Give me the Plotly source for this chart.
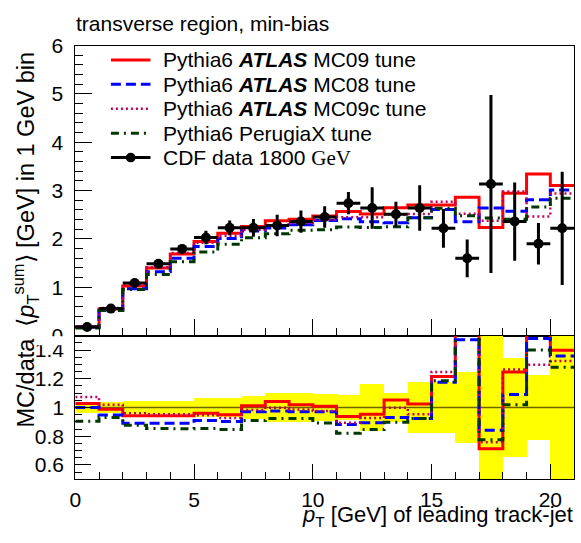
import plotly.graph_objects as go

# ---- data ----
bin_edges = list(range(22))               # 0..21 GeV, 1 GeV bins
bin_centers = [i + 0.5 for i in range(21)]

cdf_data = [0.178, 0.56, 1.09, 1.485, 1.795, 2.03, 2.23, 2.23, 2.28, 2.36, 2.455,
            2.74, 2.64, 2.51, 2.64, 2.22, 1.60, 3.135, 2.36, 1.90, 2.22]
cdf_err = [0.007, 0.021, 0.051, 0.070, 0.084, 0.14, 0.154, 0.183, 0.223, 0.231, 0.223,
           0.23, 0.43, 0.26, 0.47, 0.40, 0.39, 1.84, 0.81, 0.43, 1.17]

mc09 = [0.183, 0.553, 1.027, 1.399, 1.691, 1.949, 2.116, 2.259, 2.376, 2.407, 2.477,
        2.570, 2.516, 2.643, 2.703, 2.700, 2.864, 2.235, 2.943, 3.344, 3.104]
mc08 = [0.178, 0.531, 0.971, 1.323, 1.599, 1.845, 2.011, 2.165, 2.225, 2.292, 2.384,
        2.417, 2.358, 2.337, 2.439, 2.611, 2.354, 2.640, 2.575, 2.812, 3.015]
mc09c = [0.191, 0.571, 1.046, 1.415, 1.711, 1.922, 2.067, 2.190, 2.275, 2.329, 2.396,
         2.447, 2.447, 2.505, 2.516, 2.768, 2.520, 2.376, 2.983, 2.466, 2.939]
perugiax = [0.161, 0.521, 0.955, 1.267, 1.531, 1.732, 1.889, 2.027, 2.107, 2.181, 2.192,
            2.247, 2.236, 2.254, 2.439, 2.635, 2.480, 2.433, 2.407, 2.660, 2.842]

series = [
    ("Pythia6 <b><i>ATLAS</i></b> MC09 tune", mc09, "#ff0000", "solid", 3),
    ("Pythia6 <b><i>ATLAS</i></b> MC08 tune", mc08, "#0000ff", "10px,5px", 3),
    ("Pythia6 <b><i>ATLAS</i></b> MC09c tune", mc09c, "#c8005a", "2px,3px", 2.5),
    ("Pythia6 PerugiaX tune", perugiax, "#003800", "8px,5px,2px,5px", 3),
]
data_label = "CDF data 1800 <span style='font-family:Liberation Serif'>GeV</span>"

W, H = 581, 543
FONT = "Liberation Sans, Arial, sans-serif"


def px_x(p):
    return p / W


def px_y(p):
    return 1 - p / H


fig = go.Figure()

# ---- top panel: MC histograms ----
for name, vals, col, dash, lw in series:
    fig.add_trace(go.Scatter(
        x=bin_edges, y=vals + [vals[-1]], mode="lines", line_shape="hv",
        line=dict(color=col, width=lw, dash=dash), name=name,
        xaxis="x", yaxis="y", showlegend=False))

# data points
fig.add_trace(go.Scatter(
    x=bin_centers, y=cdf_data, mode="markers", name=data_label,
    marker=dict(color="black", size=10),
    error_y=dict(type="data", array=cdf_err, thickness=3, width=0, color="black"),
    error_x=dict(type="constant", value=0.5, thickness=3, width=0, color="black"),
    xaxis="x", yaxis="y", showlegend=False))

# ---- ratio panel ----
rel_err = [e / d for e, d in zip(cdf_err, cdf_data)]
fig.add_trace(go.Bar(
    x=bin_centers, y=[2 * r for r in rel_err], base=[1 - r for r in rel_err],
    width=1, marker=dict(color="#ffff00", line=dict(width=0)),
    xaxis="x2", yaxis="y2", showlegend=False))
fig.add_trace(go.Scatter(
    x=[bin_edges[0], bin_edges[-1]], y=[1, 1], mode="lines",
    line=dict(color="#6b6400", width=1.5), xaxis="x2", yaxis="y2", showlegend=False))
for name, vals, col, dash, lw in series:
    ratio = [m / d for m, d in zip(vals, cdf_data)]
    fig.add_trace(go.Scatter(
        x=bin_edges, y=ratio + [ratio[-1]], mode="lines", line_shape="hv",
        line=dict(color=col, width=lw, dash=dash),
        xaxis="x2", yaxis="y2", showlegend=False))

xdom = [px_x(70), px_x(574)]
common_axis = dict(showline=True, mirror=True, linecolor="black", linewidth=1,
                   showgrid=False, zeroline=False, ticks="inside",
                   tickcolor="black", tickfont=dict(size=21, family=FONT, color="black"))

# ---- legend (drawn as a ROOT-style box of samples and labels) ----
leg_rows = [50, 75.5, 101, 126.5, 152]
leg_x0, leg_x1, leg_text_x = 106, 146, 157
LEG_FS = 21
shapes = []
annotations = []
for (name, vals, col, dash, lw), ry in zip(series, leg_rows):
    shapes.append(dict(type="line", xref="paper", yref="paper",
                       x0=px_x(leg_x0), x1=px_x(leg_x1), y0=px_y(ry), y1=px_y(ry),
                       line=dict(color=col, width=lw, dash=dash)))
    annotations.append(dict(text=name, xref="paper", yref="paper",
                            x=px_x(leg_text_x), y=px_y(ry), xanchor="left",
                            yanchor="middle", showarrow=False,
                            font=dict(size=LEG_FS, family=FONT)))
ry = leg_rows[-1]
shapes.append(dict(type="line", xref="paper", yref="paper",
                   x0=px_x(leg_x0), x1=px_x(leg_x1), y0=px_y(ry), y1=px_y(ry),
                   line=dict(color="black", width=3)))
cx = (leg_x0 + leg_x1) / 2
shapes.append(dict(type="circle", xref="paper", yref="paper",
                   x0=px_x(cx - 5), x1=px_x(cx + 5), y0=px_y(ry + 5), y1=px_y(ry - 5),
                   fillcolor="black", line=dict(color="black", width=0)))
annotations.append(dict(text=data_label, xref="paper", yref="paper",
                        x=px_x(leg_text_x), y=px_y(ry), xanchor="left",
                        yanchor="middle", showarrow=False,
                        font=dict(size=LEG_FS, family=FONT)))

# white patch: lower pad covers the lower half of the top pad's "0" label
shapes.append(dict(type="rect", xref="paper", yref="paper",
                   x0=0, x1=px_x(68), y0=px_y(348), y1=px_y(338.5),
                   fillcolor="white", line=dict(width=0), layer="above"))

annotations += [
    dict(text="transverse region, min-bias", xref="paper", yref="paper",
         x=px_x(69), y=px_y(12), xanchor="left", yanchor="middle",
         showarrow=False, font=dict(size=21, family=FONT)),
    dict(text="⟨<i>p</i><sub>T</sub><sup>sum</sup>⟩ [GeV] in 1 GeV bin",
         xref="paper", yref="paper", x=px_x(20), y=px_y(39),
         xanchor="center", yanchor="top", textangle=-90, showarrow=False,
         font=dict(size=23.5, family=FONT)),
    dict(text="MC/data", xref="paper", yref="paper", x=px_x(20), y=px_y(338),
         xanchor="center", yanchor="top", textangle=-90, showarrow=False,
         font=dict(size=23.5, family=FONT)),
    dict(text="<i>p</i><sub>T</sub> [GeV] of leading track-jet",
         xref="paper", yref="paper", x=px_x(575), y=px_y(526),
         xanchor="right", yanchor="middle", showarrow=False,
         font=dict(size=22, family=FONT)),
]

fig.update_layout(
    width=W, height=H, margin=dict(l=0, r=0, t=0, b=0),
    paper_bgcolor="white", plot_bgcolor="white",
    font=dict(family=FONT, color="black"),
    bargap=0, showlegend=False,
    xaxis=dict(domain=xdom, range=[0, 21], anchor="y", showticklabels=False,
               dtick=5, tick0=0, ticklen=17,
               minor=dict(ticks="inside", dtick=1, ticklen=8, tickcolor="black"),
               **common_axis),
    yaxis=dict(domain=[px_y(338), px_y(35)], range=[0, 6], anchor="x",
               dtick=1, tick0=0, ticklen=17, ticklabelstandoff=7,
               minor=dict(ticks="inside", dtick=0.2, ticklen=8, tickcolor="black"),
               **common_axis),
    xaxis2=dict(domain=xdom, range=[0, 21], anchor="y2",
                dtick=5, tick0=0, ticklen=15, ticklabelstandoff=1,
                minor=dict(ticks="inside", dtick=1, ticklen=7, tickcolor="black"),
                **common_axis),
    yaxis2=dict(domain=[px_y(488), px_y(338)], range=[0.5, 1.5], anchor="x2",
                dtick=0.2, tick0=0.6, ticklen=16, ticklabelstandoff=6,
                minor=dict(ticks="inside", dtick=0.05, ticklen=7, tickcolor="black"),
                **common_axis),
    shapes=shapes,
    annotations=annotations,
)

fig.write_html("out.html",
               config={"displayModeBar": False, "staticPlot": True},
               post_script="document.body.style.margin='0px';"
                           "document.body.style.overflow='hidden';")
